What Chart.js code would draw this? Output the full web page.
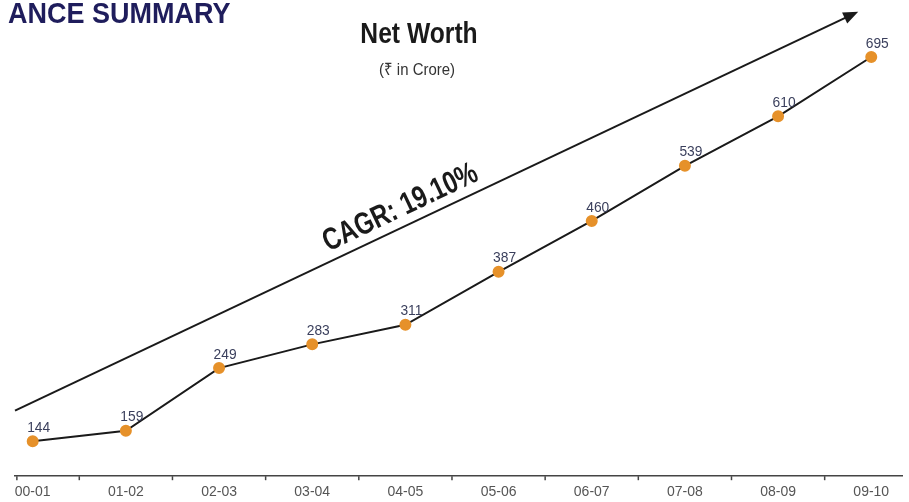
<!DOCTYPE html>
<html>
<head>
<meta charset="utf-8">
<script src="https://cdn.jsdelivr.net/npm/chart.js@4/dist/chart.umd.min.js"></script>
<style>
  html, body { margin: 0; padding: 0; background: #fff; overflow: hidden; }
  #wrap { width: 909px; height: 502px; }
</style>
</head>
<body>
<div id="wrap"><canvas id="net-worth-chart"></canvas></div>
<script>
const years = ["00-01", "01-02", "02-03", "03-04", "04-05", "05-06", "06-07", "07-08", "08-09", "09-10"];
const netWorth = [144, 159, 249, 283, 311, 387, 460, 539, 610, 695];
const cagrText = "CAGR: 19.10%";

const sans = "'Liberation Sans', Arial, sans-serif";

// draw text squeezed horizontally, like a condensed face
function narrowText(ctx, txt, x, y, squeeze) {
    ctx.save();
    ctx.translate(x, y);
    ctx.scale(squeeze, 1);
    ctx.fillText(txt, 0, 0);
    ctx.restore();
}

// value labels, header texts and the CAGR arrow
const decorations = {
    id: 'decorations',
    afterDatasetsDraw(chart) {
        const ctx = chart.ctx;
        const x = chart.scales.x;
        const y = chart.scales.y;
        const meta = chart.getDatasetMeta(0);

        ctx.save();
        ctx.fillStyle = '#3a3f5c';
        ctx.font = "15px " + sans;
        ctx.textAlign = 'center';
        ctx.textBaseline = 'bottom';
        meta.data.forEach((pt, i) => {
            narrowText(ctx, String(netWorth[i]), pt.x + 6, pt.y - 6, 0.92);
        });

        // small tick marks between categories
        ctx.strokeStyle = '#444';
        ctx.lineWidth = 1.5;
        const base = chart.chartArea.bottom;
        years.forEach((_, i) => {
            let px = x.getPixelForValue(Math.max(i - 0.5, x.min + 0.02));
            ctx.beginPath();
            ctx.moveTo(px, base);
            ctx.lineTo(px, base + 4);
            ctx.stroke();
        });

        // CAGR arrow
        const x0 = x.getPixelForValue(-0.19), y0 = y.getPixelForValue(188);
        const x1 = x.getPixelForValue(8.86), y1 = y.getPixelForValue(760);
        const ang = Math.atan2(y1 - y0, x1 - x0);
        ctx.strokeStyle = '#1a1a1a';
        ctx.lineWidth = 2;
        ctx.beginPath();
        ctx.moveTo(x0, y0);
        ctx.lineTo(x1 - 8 * Math.cos(ang), y1 - 8 * Math.sin(ang));
        ctx.stroke();
        ctx.fillStyle = '#1a1a1a';
        ctx.beginPath();
        ctx.moveTo(x1, y1);
        ctx.lineTo(x1 - 15 * Math.cos(ang) + 6 * Math.sin(ang), y1 - 15 * Math.sin(ang) - 6 * Math.cos(ang));
        ctx.lineTo(x1 - 15 * Math.cos(ang) - 6 * Math.sin(ang), y1 - 15 * Math.sin(ang) + 6 * Math.cos(ang));
        ctx.closePath();
        ctx.fill();

        const t = 0.465;
        ctx.translate(x0 + (x1 - x0) * t, y0 + (y1 - y0) * t - 3);
        ctx.rotate(ang);
        ctx.font = "bold 31px " + sans;
        ctx.textAlign = 'center';
        ctx.textBaseline = 'bottom';
        narrowText(ctx, cagrText, 0, 0, 0.78);
        ctx.restore();

        ctx.save();
        ctx.fillStyle = '#1f1d5c';
        ctx.font = "bold 30px " + sans;
        ctx.textAlign = 'left';
        ctx.textBaseline = 'middle';
        narrowText(ctx, "ANCE SUMMARY", 8, 15, 0.9);

        ctx.fillStyle = '#1a1a1a';
        ctx.textAlign = 'center';
        ctx.font = "bold 29px " + sans;
        narrowText(ctx, "Net Worth", 419, 35, 0.85);
        ctx.fillStyle = '#333';
        ctx.font = "17px " + sans;
        narrowText(ctx, "(\u20B9 in Crore)", 417, 70, 0.88);
        ctx.restore();
    }
};

new Chart(document.getElementById("net-worth-chart"), {
    type: 'line',
    data: {
        datasets: [{
            data: netWorth.map((v, i) => ({ x: i, y: v })),
            borderColor: '#1a1a1a',
            borderWidth: 2,
            pointRadius: 5,
            pointBackgroundColor: '#e6912a',
            pointBorderColor: '#e6912a',
            tension: 0,
            fill: false
        }]
    },
    options: {
        responsive: true,
        maintainAspectRatio: false,
        animation: false,
        layout: {
            padding: { top: 20, left: 15, right: 0, bottom: -7 }
        },
        scales: {
            x: {
                type: 'linear',
                min: -0.19,
                max: 9.33,
                afterBuildTicks: (scale) => {
                    scale.ticks = years.map((_, i) => ({ value: i }));
                },
                grid: { display: true, drawOnChartArea: false, drawTicks: false, tickLength: 0 },
                border: { display: true, color: '#444', width: 1.5 },
                ticks: {
                    padding: 8,
                    color: '#555',
                    font: { family: sans, size: 14 },
                    callback: (v) => years[v],
                    maxRotation: 0,
                    autoSkip: false
                }
            },
            y: {
                display: false,
                min: 94,
                max: 748
            }
        },
        plugins: {
            legend: { display: false },
            tooltip: { enabled: false }
        }
    },
    plugins: [decorations]
});
</script>
</body>
</html>
